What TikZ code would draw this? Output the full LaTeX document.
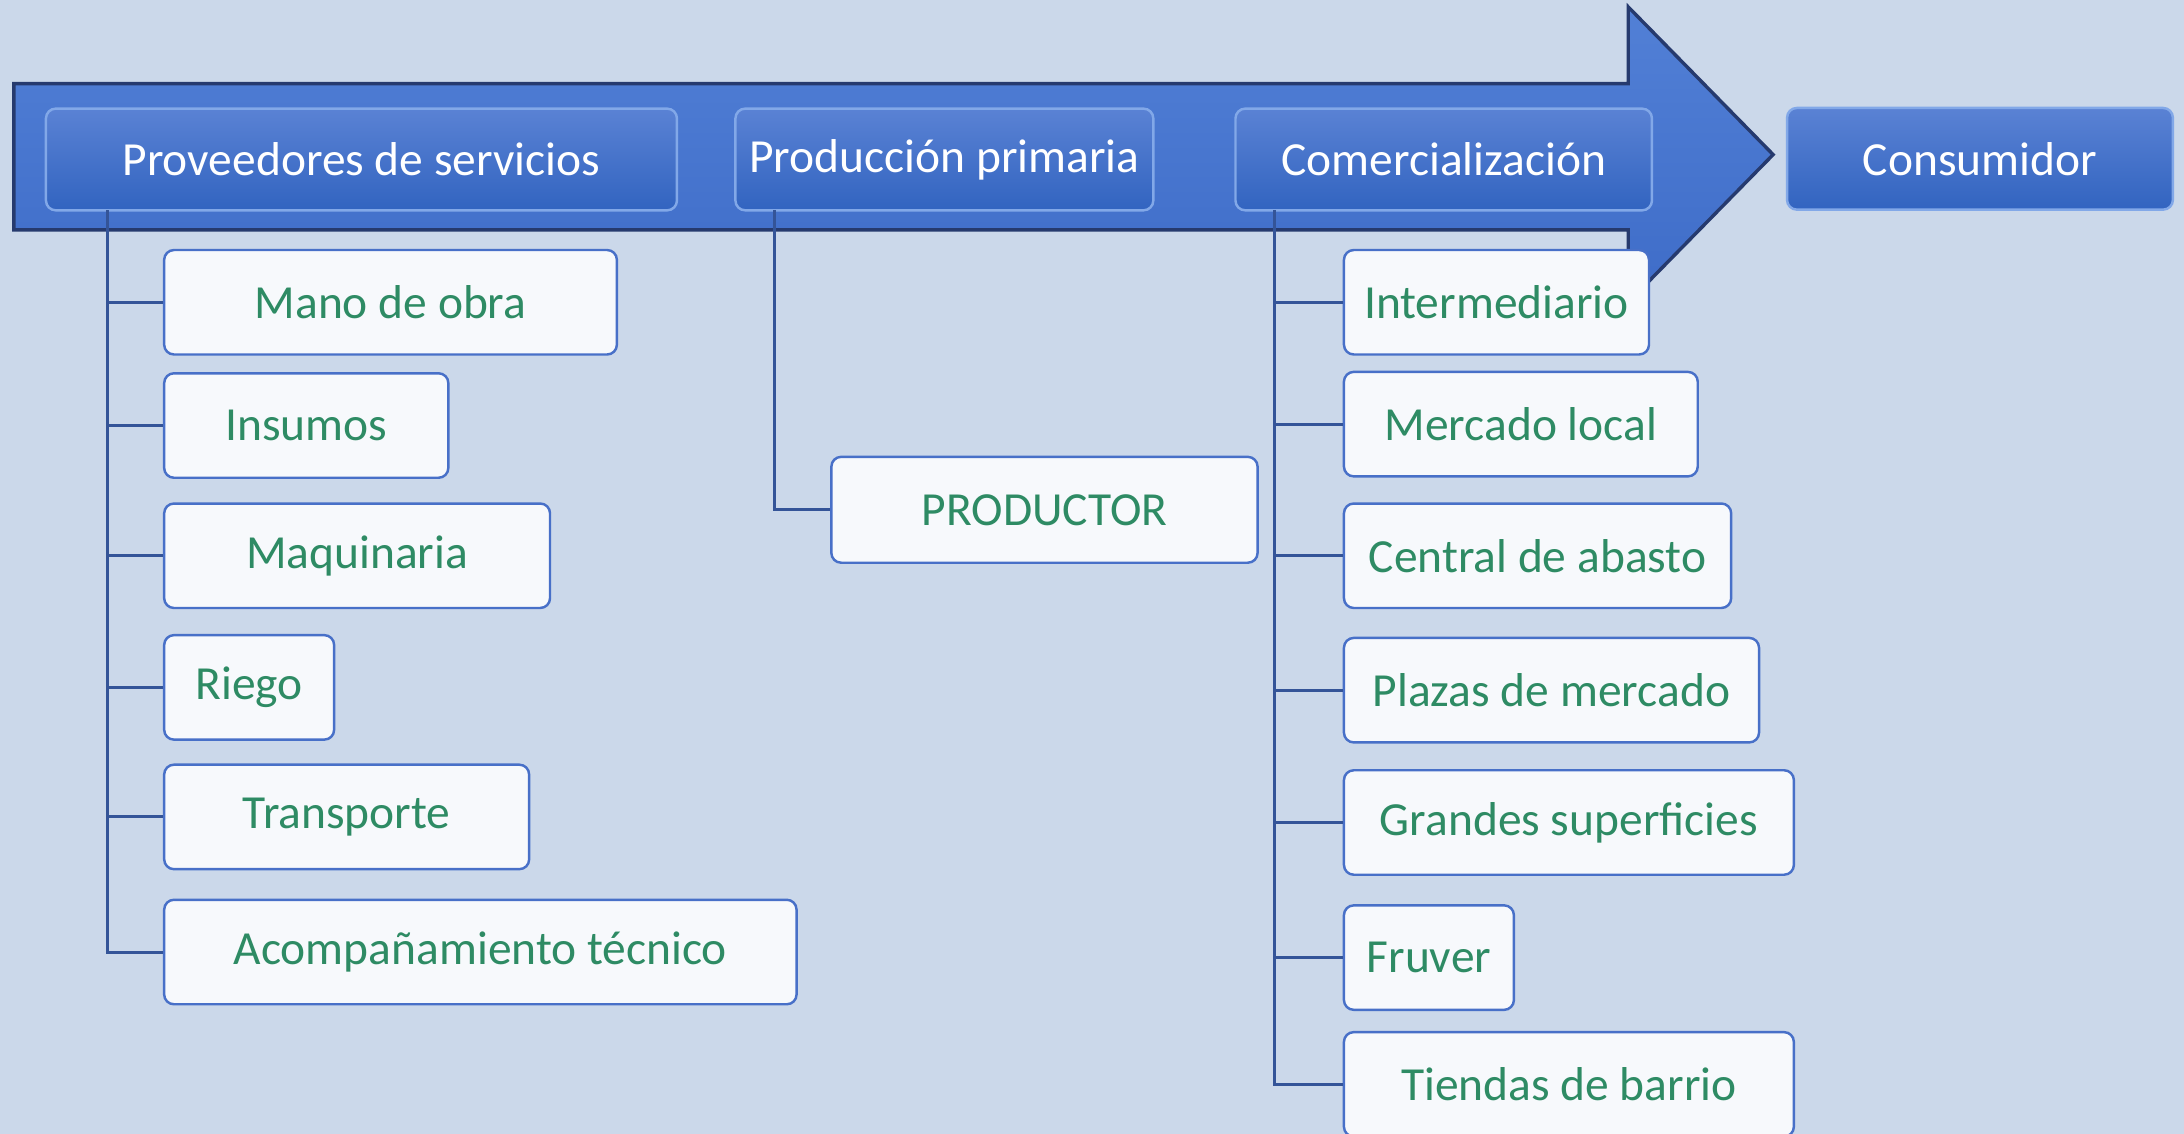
\documentclass[tikz,border=0pt]{standalone}
\usepackage{fontspec}
\setmainfont{Carlito}
\usepackage{tikz}
\usetikzlibrary{positioning}
\definecolor{bgblue}{RGB}{203,216,234}
\definecolor{arrowtop}{RGB}{82,128,214}
\definecolor{arrowbot}{RGB}{62,108,200}
\definecolor{arrowedge}{RGB}{38,58,110}
\definecolor{headtop}{RGB}{90,130,212}
\definecolor{headbot}{RGB}{50,100,192}
\definecolor{headedge}{RGB}{130,168,232}
\definecolor{itemfill}{RGB}{247,249,252}
\definecolor{itemedge}{RGB}{72,112,200}
\definecolor{itemtext}{RGB}{46,139,100}
\definecolor{linkblue}{RGB}{52,84,152}
\tikzstyle{head} = [rectangle, rounded corners=.07cm, minimum height=.73cm, text centered, draw=headedge, line width=.5pt, top color=headtop, bottom color=headbot, text=white, font=\fontsize{9.7}{12}\selectfont, inner sep=0]
\tikzstyle{item} = [rectangle, rounded corners=.07cm, minimum height=.75cm, text centered, draw=itemedge, line width=.5pt, fill=itemfill, text=itemtext, font=\fontsize{9.7}{12}\selectfont, inner sep=0, anchor=west]
\tikzstyle{link} = [draw=linkblue, line width=.6pt]

\begin{document}
\begin{tikzpicture}

\fill [bgblue] (0,0) rectangle (15.68,-8.14);
\useasboundingbox (0,0) rectangle (15.68,-8.14);

% big arrow
\shade [top color=arrowtop, bottom color=arrowbot, draw=arrowedge, line width=.7pt]
  (.10,-.60) -- (11.69,-.60) -- (11.69,-.05) -- (12.73,-1.11) -- (11.69,-2.17) -- (11.69,-1.65) -- (.10,-1.65) -- cycle;

\node (prov) [head, minimum width=4.53cm] at (2.595,-1.145) {Proveedores de servicios};
\node (prod) [head, minimum width=3.00cm] at (6.78,-1.145) {Producción primaria};
\node (com) [head, minimum width=2.99cm] at (10.365,-1.145) {Comercialización};
\node (cons) [head, minimum width=2.77cm] at (14.215,-1.14) {Consumidor};

\coordinate (provT) at (.77,-1.51);
\coordinate (prodT) at (5.56,-1.51);
\coordinate (comT) at (9.15,-1.51);

\node (mano) [item, minimum width=3.25cm] at (1.17,-2.17) {Mano de obra};
\node (insumos) [item, minimum width=2.04cm] at (1.17,-3.055) {Insumos};
\node (maq) [item, minimum width=2.77cm] at (1.17,-3.99) {Maquinaria};
\node (riego) [item, minimum width=1.22cm] at (1.17,-4.935) {Riego};
\node (transp) [item, minimum width=2.62cm] at (1.17,-5.865) {Transporte};
\node (acomp) [item, minimum width=4.54cm] at (1.17,-6.835) {Acompañamiento técnico};

\foreach \n in {mano,insumos,maq,riego,transp,acomp}
  \draw [link] (provT) |- (\n.west);

\node (productor) [item, minimum width=3.06cm, minimum height=.76cm] at (5.96,-3.66) {PRODUCTOR};
\draw [link] (prodT) |- (productor.west);

\node (inter) [item, minimum width=2.19cm] at (9.64,-2.17) {Intermediario};
\node (mlocal) [item, minimum width=2.54cm] at (9.64,-3.045) {Mercado local};
\node (central) [item, minimum width=2.78cm] at (9.64,-3.99) {Central de abasto};
\node (plazas) [item, minimum width=2.98cm] at (9.64,-4.955) {Plazas de mercado};
\node (grandes) [item, minimum width=3.23cm] at (9.64,-5.905) {Grandes superficies};
\node (fruver) [item, minimum width=1.22cm] at (9.64,-6.875) {Fruver};
\node (tiendas) [item, minimum width=3.23cm] at (9.64,-7.785) {Tiendas de barrio};

\foreach \n in {inter,mlocal,central,plazas,grandes,fruver,tiendas}
  \draw [link] (comT) |- (\n.west);

\end{tikzpicture}
\end{document}
